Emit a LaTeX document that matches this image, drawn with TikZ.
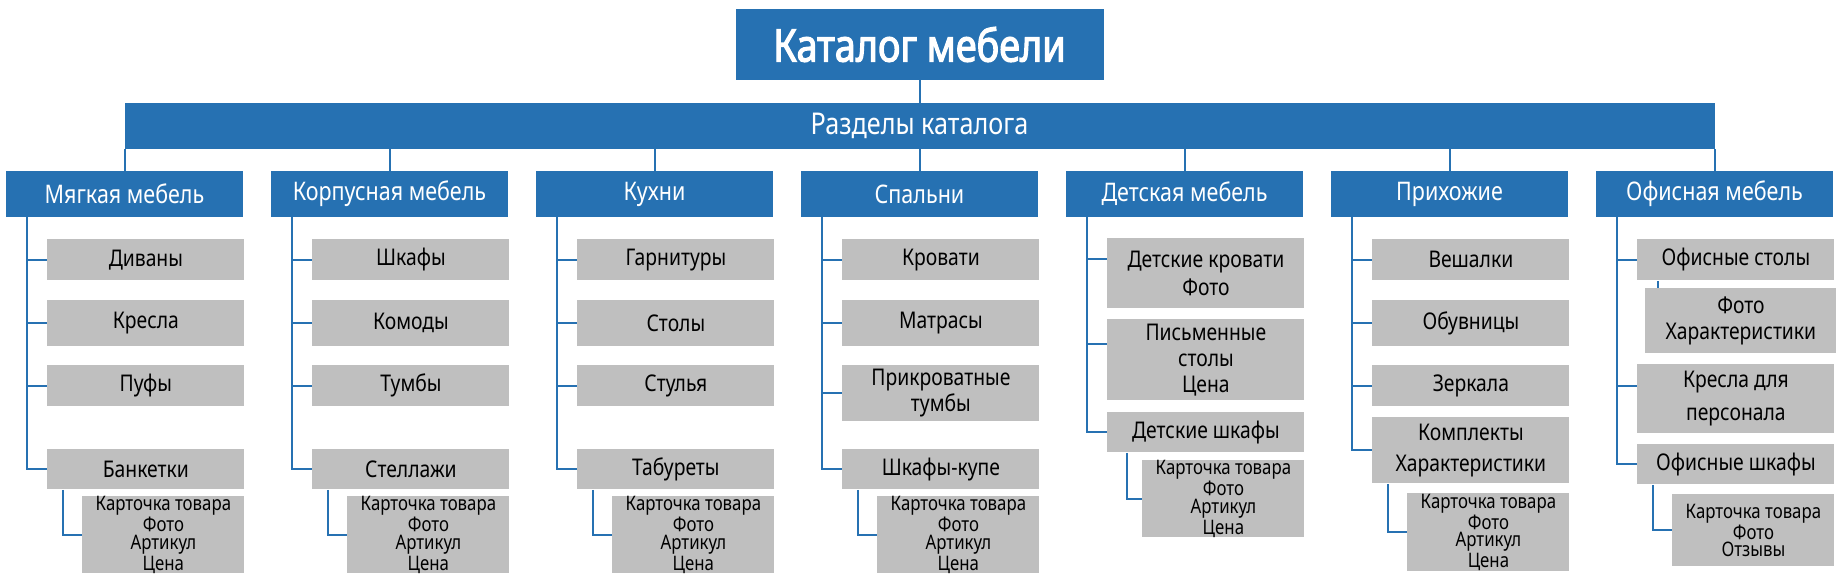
\documentclass[tikz,border=0pt]{standalone}
\usepackage{fontspec}
\setmainfont{Noto Sans}[FakeStretch=0.84]
\definecolor{cblue}{RGB}{38,113,178}
\definecolor{cgray}{RGB}{191,191,191}
\begin{document}
\begin{tikzpicture}[x=0.5pt, y=-0.5pt,
    head/.style={fill=cblue, text=white, inner sep=0pt, minimum height=23pt},
    sec/.style={head, minimum width=118.5pt, font=\fontsize{12.8}{14}\selectfont},
    item/.style={fill=cgray, anchor=north west, inner sep=0pt, align=center, minimum width=98.5pt, minimum height=20.5pt, font=\fontsize{11.5}{13}\selectfont},
    card/.style={item, minimum width=81pt, minimum height=37.5pt, font=\fontsize{10}{8.6}\selectfont},
    link/.style={draw=cblue, line width=1pt}]
    \useasboundingbox (0,0) rectangle (1840,576);

    \node[head, minimum width=184pt, minimum height=35.5pt, font=\addfontfeatures{FakeBold=2.5}\fontsize{22.5}{25}\selectfont] (t) at (919.5,44.5) {Каталог мебели};
    \node[head, minimum width=795pt, font=\fontsize{15}{17}\selectfont] (r) at (919.5,126) {Разделы каталога};

    \node[sec] (s1) at (124.5,194) {Мягкая мебель};
    \node[sec] (s2) at (389.5,194) {Корпусная мебель};
    \node[sec] (s3) at (654.5,194) {Кухни};
    \node[sec] (s4) at (919.5,194) {Спальни};
    \node[sec] (s5) at (1184.5,194) {Детская мебель};
    \node[sec] (s6) at (1449.5,194) {Прихожие};
    \node[sec] (s7) at (1714.5,194) {Офисная мебель};

    \node[item] (a1) at (47,239) {Диваны};
    \node[item, minimum height=23pt] (a2) at (47,300) {Кресла};
    \node[item] (a3) at (47,365) {Пуфы};
    \node[item, minimum height=20pt] (a4) at (47,449) {Банкетки};
    \node[card] (ak) at (82,496) {Карточка товара\\Фото\\Артикул\\Цена};

    \node[item] (b1) at (312,239) {Шкафы};
    \node[item, minimum height=23pt] (b2) at (312,300) {Комоды};
    \node[item] (b3) at (312,365) {Тумбы};
    \node[item, minimum height=20pt] (b4) at (312,449) {Стеллажи};
    \node[card] (bk) at (347,496) {Карточка товара\\Фото\\Артикул\\Цена};

    \node[item] (c1) at (577,239) {Гарнитуры};
    \node[item, minimum height=23pt] (c2) at (577,300) {Столы};
    \node[item] (c3) at (577,365) {Стулья};
    \node[item, minimum height=20pt] (c4) at (577,449) {Табуреты};
    \node[card] (ck) at (612,496) {Карточка товара\\Фото\\Артикул\\Цена};

    \node[item] (d1) at (842,239) {Кровати};
    \node[item, minimum height=23pt] (d2) at (842,300) {Матрасы};
    \node[item, minimum height=28pt] (d3) at (842,365) {Прикроватные\\тумбы};
    \node[item, minimum height=20pt] (d4) at (842,449) {Шкафы-купе};
    \node[card] (dk) at (877,496) {Карточка товара\\Фото\\Артикул\\Цена};

    \node[item, minimum height=35pt] (e1) at (1107,238) {Детские кровати\\[1pt]Фото};
    \node[item, minimum height=40.5pt] (e2) at (1107,319) {Письменные\\столы\\Цена};
    \node[item, minimum height=20pt] (e3) at (1107,412) {Детские шкафы};
    \node[card] (ek) at (1142,460) {Карточка товара\\Фото\\Артикул\\Цена};

    \node[item] (f1) at (1372,239) {Вешалки};
    \node[item, minimum height=23pt] (f2) at (1372,300) {Обувницы};
    \node[item] (f3) at (1372,365) {Зеркала};
    \node[item, minimum height=33pt] (f4) at (1372,417) {Комплекты\\[2.5pt]Характеристики};
    \node[card, minimum height=39pt] (fk) at (1407,493) {Карточка товара\\Фото\\Артикул\\Цена};

    \node[item] (g1) at (1637,239) {Офисные столы};
    \node[item, minimum width=95.5pt, minimum height=32.5pt] (g2) at (1645,288) {Фото\\Характеристики};
    \node[item, minimum height=34.5pt] (g3) at (1637,364) {Кресла для\\[3.5pt]персонала};
    \node[item, minimum height=20pt] (g4) at (1637,444) {Офисные шкафы};
    \node[card, minimum height=36pt] (gk) at (1672,494) {Карточка товара\\Фото\\Отзывы};

    \draw[link] (t) -- (r);
    \draw[link] (s1) -- (s1 |- r.south);
    \draw[link] (s2) -- (s2 |- r.south);
    \draw[link] (s3) -- (s3 |- r.south);
    \draw[link] (s4) -- (s4 |- r.south);
    \draw[link] (s5) -- (s5 |- r.south);
    \draw[link] (s6) -- (s6 |- r.south);
    \draw[link] (s7) -- (s7 |- r.south);

    \coordinate (av) at ([xshift=10.5pt]s1.south west);
    \draw[link] (av) |- (a4);
    \draw[link] (av |- a1) -- (a1);
    \draw[link] (av |- a2) -- (a2);
    \draw[link] (av |- a3) -- (a3);
    \draw[link] ([xshift=8pt]a4.south west) |- (ak);

    \coordinate (bv) at ([xshift=10.5pt]s2.south west);
    \draw[link] (bv) |- (b4);
    \draw[link] (bv |- b1) -- (b1);
    \draw[link] (bv |- b2) -- (b2);
    \draw[link] (bv |- b3) -- (b3);
    \draw[link] ([xshift=8pt]b4.south west) |- (bk);

    \coordinate (cv) at ([xshift=10.5pt]s3.south west);
    \draw[link] (cv) |- (c4);
    \draw[link] (cv |- c1) -- (c1);
    \draw[link] (cv |- c2) -- (c2);
    \draw[link] (cv |- c3) -- (c3);
    \draw[link] ([xshift=8pt]c4.south west) |- (ck);

    \coordinate (dv) at ([xshift=10.5pt]s4.south west);
    \draw[link] (dv) |- (d4);
    \draw[link] (dv |- d1) -- (d1);
    \draw[link] (dv |- d2) -- (d2);
    \draw[link] (dv |- d3) -- (d3);
    \draw[link] ([xshift=8pt]d4.south west) |- (dk);

    \coordinate (ev) at ([xshift=10.5pt]s5.south west);
    \coordinate (e1t) at ([yshift=-10.5pt]e1.north west);
    \coordinate (e2t) at ([yshift=-12.5pt]e2.north west);
    \draw[link] (ev) |- (e3);
    \draw[link] (ev |- e1t) -- (e1t);
    \draw[link] (ev |- e2t) -- (e2t);
    \draw[link] ([xshift=10pt]e3.south west) |- (ek);

    \coordinate (fv) at ([xshift=10.5pt]s6.south west);
    \draw[link] (fv) |- (f4);
    \draw[link] (fv |- f1) -- (f1);
    \draw[link] (fv |- f2) -- (f2);
    \draw[link] (fv |- f3) -- (f3);
    \draw[link] ([xshift=8pt]f4.south west) |- (fk);

    \coordinate (gv) at ([xshift=10.5pt]s7.south west);
    \coordinate (g2t) at ([xshift=10.5pt]g1.south west);
    \coordinate (g3t) at ([yshift=-11pt]g3.north west);
    \draw[link] (gv) |- (g4);
    \draw[link] (gv |- g1) -- (g1);
    \draw[link] (gv |- g3t) -- (g3t);
    \draw[link] (g2t) -- (g2t |- g2.north);
    \draw[link] ([xshift=8pt]g4.south west) |- (gk);
\end{tikzpicture}
\end{document}
